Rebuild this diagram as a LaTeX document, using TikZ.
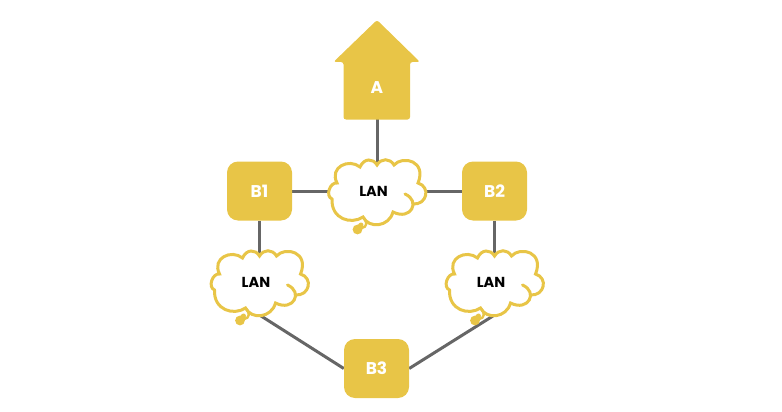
\documentclass[tikz,border=0pt]{standalone}
\usepackage{fontspec}
\setmainfont{Poppins}
\usetikzlibrary{backgrounds}
\definecolor{BridgeYellow}{HTML}{E8C547}
\definecolor{LinkGray}{HTML}{666666}
\tikzset{
    BridgeText/.style={text=white,font=\bfseries\fontsize{17}{17}\selectfont},
    BridgeBox/.style={BridgeText,fill=BridgeYellow,rounded corners=11pt,minimum width=65pt,minimum height=59pt},
    LanText/.style={text=black,font=\bfseries\fontsize{14.5}{15}\selectfont},
    CloudLine/.style={draw=BridgeYellow,line width=3pt,line cap=round},
    Link/.style={draw=LinkGray,line width=3pt},
}
\newcommand\CloudPath{(28,3) .. controls (44,10) and (34,30) .. (16,21)
    .. controls (12,36) and (-8,38) .. (-14,26) .. controls (-26,34) and (-46,28) .. (-45,8)
    .. controls (-52,5) and (-47,-9) .. (-40,-8) .. controls (-48,-24) and (-28,-33) .. (-17,-24)
    .. controls (-13,-33) and (-4,-33) .. (0,-26) .. controls (4,-33) and (13,-33) .. (17,-26)
    .. controls (26,-36) and (50,-30) .. (41,-8) .. controls (54,-4) and (50,14) .. (36,13)}
\newcommand\LanCloud[3]{%
    \begin{scope}[shift={(#2,#3)}]
        \coordinate (#1) at (0,0);
        \coordinate (#1Bottom) at (0,33);
        % white inside, then the outline
        \fill[white] \CloudPath -- cycle;
        \draw[CloudLine] \CloudPath;
        % the little tail
        \draw[CloudLine,line width=2.4pt] (-14,26) .. controls (-9,31) and (-10,36) .. (-15,37);
        \draw[CloudLine,line width=5pt] (-19,38) -- (-16,34);
        \fill[BridgeYellow] (-19.5,38.5) circle (4.9);
        \node[LanText] (#1Text) at (-3.5,0) {LAN};
    \end{scope}
}

\begin{document}
\begin{tikzpicture}[x=1pt,y=-1pt]
    \useasboundingbox (0,0) rectangle (782,412);
    % root bridge
    \fill[BridgeYellow,rounded corners=2.5pt] (343.5,119.5) -- (343.5,62) -- (333.5,62) -- (377,20) -- (420,62)
        -- (410,62) -- (410,119.5) -- cycle;
    \node[BridgeText] (A) at (377,88) {A};
    \node[BridgeBox] (B1) at (259.5,191) {B1};
    \node[BridgeBox] (B2) at (494.5,191) {B2};
    \node[BridgeBox] (B3) at (376.5,368.5) {B3};
    \LanCloud{LanTop}{377}{191}
    \LanCloud{LanLeft}{259.5}{282}
    \LanCloud{LanRight}{494.5}{282}
    \begin{scope}[on background layer]
        \draw[Link] (A) -- (LanTop);
        \draw[Link] (B1) -- (LanTop);
        \draw[Link] (B2) -- (LanTop);
        \draw[Link] (B1) -- (LanLeft);
        \draw[Link] (B2) -- (LanRight);
        \draw[Link] (B3.west) -- (LanLeftBottom);
        \draw[Link] (B3.east) -- (LanRightBottom);
    \end{scope}
\end{tikzpicture}
\end{document}
